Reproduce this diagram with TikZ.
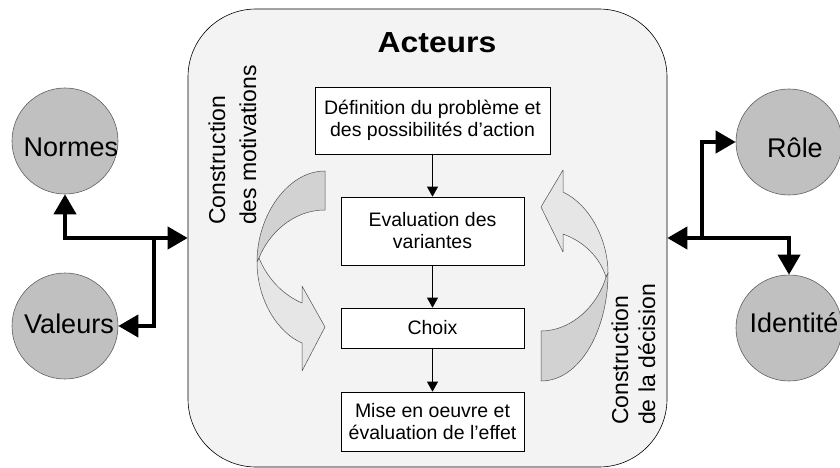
\documentclass[tikz,border=0pt]{standalone}
\usepackage{fontspec}
\setmainfont{Liberation Sans}
\usetikzlibrary{arrows.meta}
\definecolor{panel}{HTML}{F3F3F3}
\definecolor{bubble}{HTML}{C0C0C0}
\definecolor{bubbleline}{HTML}{606060}
\definecolor{bendlight}{HTML}{E6E6E6}
\definecolor{benddark}{HTML}{D2D2D2}
\definecolor{bendline}{HTML}{505050}
\tikzset{bigtip/.tip={Triangle[length=20pt,width=22pt]}}
\begin{document}
\begin{tikzpicture}[x=1pt,y=-1pt,
  stepbox/.style={draw=black, line width=0.7pt, fill=white, inner sep=0pt,
    align=center, font=\fontsize{19.5}{22}\selectfont},
  bubblenode/.style={circle, draw=bubbleline, line width=0.6pt, fill=bubble,
    minimum size=106pt, inner sep=0pt},
  bubbletext/.style={font=\fontsize{27}{30}\selectfont, inner sep=0pt},
  flow/.style={draw=black, line width=0.7pt, -{Triangle[length=10pt,width=11pt]}},
  link/.style={draw=black, line width=4pt, line join=miter},
  bendpart/.style={draw=bendline, line width=0.5pt, line join=round},
  sidetext/.style={rotate=90, anchor=west, align=left, inner sep=0pt}]

\useasboundingbox (0,0) rectangle (840,468);
\fill[white] (0,0) rectangle (840,468);

% actors frame
\node[draw=black, line width=0.6pt, fill=panel, rounded corners=68pt,
      minimum width=479pt, minimum height=458pt, inner sep=0pt] (frame) at (427.5,238) {};
\node[font=\bfseries\fontsize{29}{31}\selectfont, inner sep=0pt, xscale=1.1] (title) at (437,43) {Acteurs};

% decision steps
\node[stepbox, minimum width=235pt, minimum height=67pt] (def) at (432.5,120.5)
  {Définition du problème et\\des possibilités d'action};
\node[stepbox, minimum width=183pt, minimum height=68pt] (eval) at (432.5,231)
  {Evaluation des\\variantes};
\node[stepbox, minimum width=183pt, minimum height=40pt] (choix) at (432.5,328) {Choix};
\node[stepbox, minimum width=183pt, minimum height=59pt] (mise) at (432.5,421.5)
  {Mise en oeuvre et\\évaluation de l'effet};

\draw[flow] (def.south) -- (eval.north);
\draw[flow] (eval.south) -- (choix.north);
\draw[flow] (choix.south) -- (mise.north);

% curved arrow, left: construction of motivations
\filldraw[bendpart, fill=benddark]
  (325,171) .. controls (288,171) and (257,215) .. (257,262)
  -- (259,258) .. controls (268,235) and (292,210) .. (325,210) -- cycle;
\filldraw[bendpart, fill=bendlight]
  (257,262) .. controls (257,300) and (278,333) .. (302,343)
  -- (302,371) -- (325,327) -- (302,286) -- (302,303)
  .. controls (283,295) and (267,278) .. (259,258) -- cycle;

% curved arrow, right: construction of the decision
\filldraw[bendpart, fill=benddark]
  (541,381) .. controls (580,381) and (608,330) .. (608,273)
  -- (606,277) .. controls (598,305) and (572,331) .. (541,331) -- cycle;
\filldraw[bendpart, fill=bendlight]
  (608,273) .. controls (608,240) and (590,205) .. (563,192)
  -- (563,170) -- (541,207) -- (563,252) -- (563,234)
  .. controls (585,242) and (600,258) .. (606,277) -- cycle;

\node[sidetext, font=\fontsize{23}{31}\selectfont] (motiv) at (232.5,225)
  {Construction\\des motivations};
\node[sidetext, font=\fontsize{23}{27}\selectfont] (decis) at (633.5,425)
  {Construction\\de la décision};

% surrounding factors
\node[bubblenode] (normes) at (65,141) {};
\node[bubbletext] (normesT) at (71,147) {Normes};
\node[bubblenode] (valeurs) at (65,326) {};
\node[bubbletext] (valeursT) at (69,324) {Valeurs};
\node[bubblenode] (role) at (789,142) {};
\node[bubbletext] (roleT) at (795,148) {Rôle};
\node[bubblenode] (ident) at (789,328) {};
\node[bubbletext] (identT) at (794,323) {Identité};

\coordinate (jl) at (154,238);
\coordinate (jr) at (702,238);

\draw[link, bigtip-bigtip] (normes.south) |- (frame.west);
\draw[link, -bigtip] (jl) |- (valeurs.east);
\draw[link, bigtip-bigtip] (role.west) -| (jr) -- (frame.east);
\draw[link, -bigtip] (jr) -| (ident.north);

\end{tikzpicture}
\end{document}
